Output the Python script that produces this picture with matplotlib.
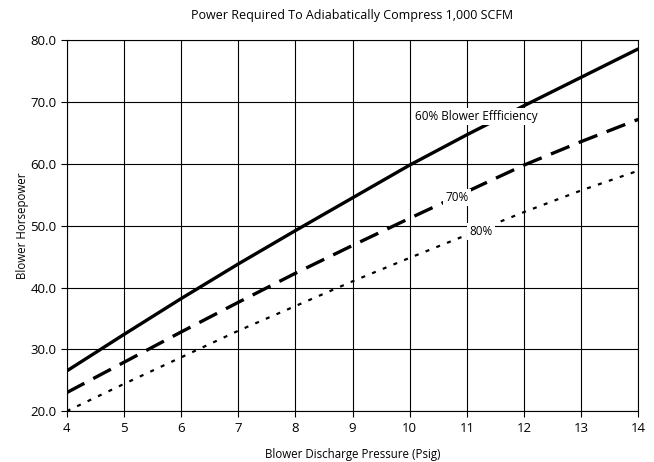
import matplotlib
matplotlib.use('Agg')
import matplotlib.pyplot as plt

# blower discharge pressure (psig)
pressure = [4, 5, 6, 7, 8, 9, 10, 11, 12, 13, 14]
# horsepower
hp_60 = [26.5, 32.4, 38.2, 43.8, 49.2, 54.5, 59.8, 64.7, 69.4, 74.0, 78.6]
hp_70 = [23.0, 27.9, 32.8, 37.6, 42.3, 46.8, 51.2, 55.5, 59.8, 63.6, 67.2]
hp_80 = [20.0, 24.4, 28.7, 33.0, 37.0, 41.0, 44.8, 48.5, 52.2, 55.7, 58.9]

xticks = list(range(4, 15))
yticks = [20, 30, 40, 50, 60, 70, 80]

plt.rcParams['font.family'] = ['Open Sans', 'DejaVu Sans']

fig = plt.figure(figsize=(6.54, 4.62), dpi=100)
ax = fig.add_axes([0.102, 0.110, 0.874, 0.803])

ax.plot(pressure, hp_60, color='black', lw=2.4, solid_capstyle='butt')
ax.plot(pressure, hp_70, color='black', lw=2.4, dashes=(6, 3), dash_capstyle='butt')
ax.plot(pressure, hp_80, color='black', lw=1.6, dashes=(1.8, 3.4), dash_capstyle='butt')

box = dict(facecolor='white', edgecolor='none', pad=1.5)
ax.text(11.16, 67.6, '60% Blower Effficiency', fontsize=8.5, ha='center', va='center', bbox=box, zorder=5)
ax.text(10.83, 54.5, '70%', fontsize=8.5, ha='center', va='center', bbox=box, zorder=5)
ax.text(11.25, 49.1, '80%', fontsize=8.5, ha='center', va='center', bbox=box, zorder=5)

ax.set_xlim(4, 14)
ax.set_ylim(20, 80)
ax.set_xticks(xticks)
ax.set_yticks(yticks)
ax.set_yticklabels(['%.1f' % v for v in yticks])
ax.grid(True, color='black', lw=0.8)
ax.set_axisbelow(True)
for s in ax.spines.values():
    s.set_linewidth(0.8)
ax.tick_params(labelsize=9.5, length=4, width=0.8, direction='out')

ax.set_title('Power Required To Adiabatically Compress 1,000 SCFM', fontsize=9, pad=15)
ax.set_xlabel('Blower Discharge Pressure (Psig)', fontsize=8.3, labelpad=10)
ax.set_ylabel('Blower Horsepower', fontsize=8.3, labelpad=1)

fig.savefig('out.png', dpi=100)
